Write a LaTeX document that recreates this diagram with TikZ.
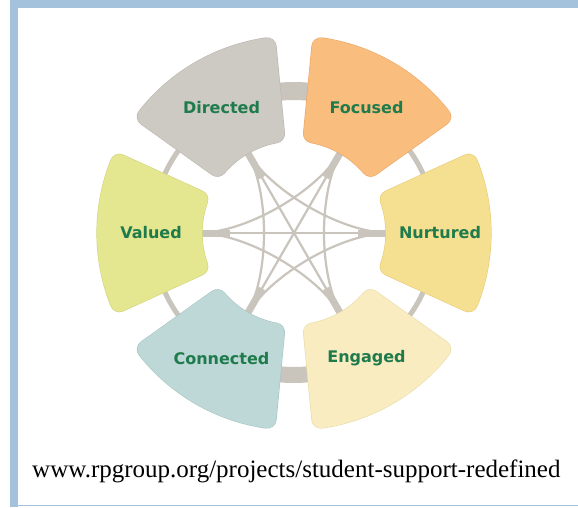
\documentclass[tikz,border=0pt]{standalone}
\usepackage{fontspec}
\setmainfont{Liberation Serif}
\newfontfamily\labfont{DejaVu Sans}
\usetikzlibrary{calc}
\definecolor{frameblue}{HTML}{A4C2DB}
\definecolor{conn}{HTML}{C9C4BC}
\definecolor{labgreen}{HTML}{1F7A4C}
\definecolor{dirF}{HTML}{CDC9C3}\definecolor{dirB}{HTML}{BDB8B1}
\definecolor{focF}{HTML}{F9BE7E}\definecolor{focB}{HTML}{EAA868}
\definecolor{nurF}{HTML}{F5DF90}\definecolor{nurB}{HTML}{E7CD7B}
\definecolor{engF}{HTML}{F8ECC0}\definecolor{engB}{HTML}{E9DCA8}
\definecolor{conF}{HTML}{BDD8D6}\definecolor{conB}{HTML}{A9C6C4}
\definecolor{valF}{HTML}{E4E790}\definecolor{valB}{HTML}{D2D67C}
\newcommand\sectpath[1]{%
  (#1-24.5+5.11:101) -- (#1-24.5+2.74:188)
  arc[start angle=#1-24.5+2.74, end angle=#1+24.5-2.74, radius=188]
  -- (#1+24.5-5.11:101)
  arc[start angle=#1+24.5-5.11, end angle=#1-24.5+5.11, radius=101] -- cycle}
\newcommand\sector[3]{%
  \path[draw=#3, fill=#3, line width=19.2pt, line join=round] \sectpath{#1};
  \path[draw=#2, fill=#2, line width=18pt, line join=round] \sectpath{#1};}
\tikzset{
  lab/.style={font=\labfont\bfseries\fontsize{16}{19}\selectfont, text=labgreen, inner sep=0pt},
  web/.style={draw=conn, line width=2.2pt},
  stub/.style={draw=conn, line width=7pt},
  url/.style={font=\fontsize{25}{30}\selectfont, inner sep=0pt, anchor=base west}
}
\begin{document}
\begin{tikzpicture}[x=1pt,y=1pt]
\useasboundingbox (0,0) rectangle (578,507);
\fill[white] (0,0) rectangle (578,507);
\fill[frameblue] (10,0) rectangle (18,507);
\fill[frameblue] (10,499) rectangle (578,507);
\fill[frameblue] (10,1) rectangle (578,2.5);
\begin{scope}[shift={(294,274)}]
  \coordinate (C) at (0,0);
  % outer ring connectors
  \draw[conn, line width=5pt] (C) circle[radius=142];
  \draw[conn, line width=18pt] (80:142) arc[start angle=80, end angle=100, radius=142];
  \draw[conn, line width=16pt] (260:142) arc[start angle=260, end angle=280, radius=142];
  % inner points
  \foreach \a/\n in {0/pN,60/pF,120/pD,180/pV,240/pC,300/pE}{
    \coordinate (\n) at (\a:96);
    \coordinate (\n s) at (\a:64);
  }
  % diameters
  \draw[web] (pV) -- (pN);
  \draw[web] (pD) -- (pE);
  \draw[web] (pF) -- (pC);
  % skip-one chords
  \foreach \s/\t in {pN/pD,pD/pC,pC/pN,pF/pV,pV/pE,pE/pF}{
    \draw[web] (\s) .. controls ($(\s)!0.5!(C)$) and ($(\t)!0.5!(C)$) .. (\t);
  }
  % stubs
  \foreach \n in {pN,pF,pD,pV,pC,pE}{
    \draw[stub] (\n) -- (\n s);
  }
  % sectors
  \sector{120}{dirF}{dirB}
  \sector{60}{focF}{focB}
  \sector{0}{nurF}{nurB}
  \sector{300}{engF}{engB}
  \sector{240}{conF}{conB}
  \sector{180}{valF}{valB}
  % labels
  \node[lab] (dir) at (120:145) {Directed};
  \node[lab] (foc) at (60:145) {Focused};
  \node[lab] (nur) at (0:146) {Nurtured};
  \node[lab] (eng) at (300:145) {Engaged};
  \node[lab] (con) at (240:145) {Connected};
  \node[lab] (val) at (180:143) {Valued};
\end{scope}
\node[url] (url) at (32,30) {www.rpgroup.org/projects/student-support-redefined};
\end{tikzpicture}
\end{document}
